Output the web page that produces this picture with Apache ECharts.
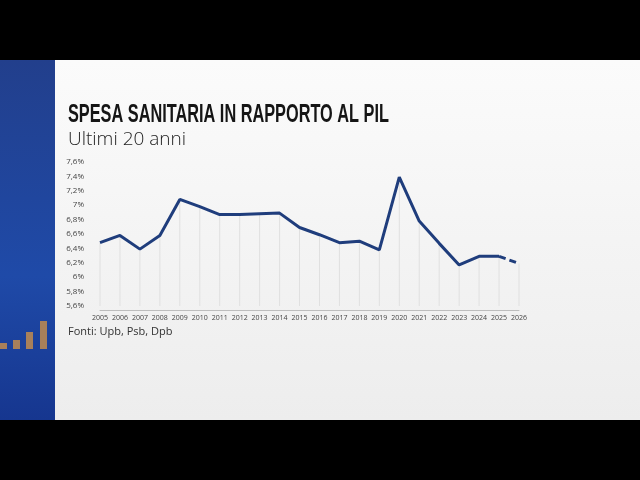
<!DOCTYPE html>
<html>
<head>
<meta charset="utf-8">
<script src="https://cdn.jsdelivr.net/npm/echarts@6/dist/echarts.min.js"></script>
<style>
  html, body { margin: 0; padding: 0; background: #000; }
  #chart { width: 640px; height: 480px; }
</style>
</head>
<body>
<div id="chart"></div>
<script>
// anni e valori (spesa sanitaria / PIL, %)
const years = ['2005','2006','2007','2008','2009','2010','2011','2012','2013','2014','2015',
  '2016','2017','2018','2019','2020','2021','2022','2023','2024','2025','2026'];
const actual = [6.48, 6.58, 6.39, 6.58, 7.08, 6.98, 6.87, 6.87, 6.88, 6.89, 6.69,
  6.59, 6.48, 6.50, 6.38, 7.39, 6.78, 6.47, 6.17, 6.29, 6.29, null];
const forecast = [null, null, null, null, null, null, null, null, null, null, null,
  null, null, null, null, null, null, null, null, null, 6.29, 6.19];
const dropLines = [6.48, 6.58, 6.39, 6.58, 7.08, 6.98, 6.87, 6.87, 6.88, 6.89, 6.69,
  6.59, 6.48, 6.50, 6.38, 7.39, 6.78, 6.47, 6.17, 6.29, 6.29, 6.19];

const lineColor = '#1f3d7c';

let myChart = echarts.init(document.getElementById('chart'));

let option = {
  animation: false,
  backgroundColor: '#000',
  graphic: [
    // pannello chiaro
    {
      type: 'rect', z: -10, silent: true,
      shape: { x: 55, y: 60, width: 585, height: 360 },
      style: {
        fill: new echarts.graphic.LinearGradient(0, 0, 0, 1, [
          { offset: 0, color: '#fbfbfb' },
          { offset: 1, color: '#ededed' }
        ])
      }
    },
    // pannello blu a sinistra
    {
      type: 'rect', z: -10, silent: true,
      shape: { x: 0, y: 60, width: 55, height: 360 },
      style: {
        fill: new echarts.graphic.LinearGradient(0, 0, 0, 1, [
          { offset: 0, color: '#223f8c' },
          { offset: 0.6, color: '#1f4aa8' },
          { offset: 1, color: '#16368f' }
        ])
      }
    },
    { type: 'rect', z: -9, silent: true, shape: { x: 0, y: 343, width: 7, height: 6 }, style: { fill: '#a8805a' } },
    { type: 'rect', z: -9, silent: true, shape: { x: 13, y: 340, width: 7, height: 9 }, style: { fill: '#a8805a' } },
    { type: 'rect', z: -9, silent: true, shape: { x: 26, y: 332, width: 7, height: 17 }, style: { fill: '#a8805a' } },
    { type: 'rect', z: -9, silent: true, shape: { x: 40, y: 321, width: 7, height: 28 }, style: { fill: '#a8805a' } },
    {
      type: 'text', x: 68, y: 102, scaleX: 0.627,
      style: {
        text: 'SPESA SANITARIA IN RAPPORTO AL PIL',
        font: 'bold 26px "Liberation Sans"',
        fill: '#151515'
      }
    },
    {
      type: 'text', left: 68, top: 130,
      style: {
        text: 'Ultimi 20 anni',
        font: '300 19px "Open Sans"',
        fill: '#222'
      }
    },
    {
      type: 'text', left: 68, top: 326,
      style: {
        text: 'Fonti: Upb, Psb, Dpb',
        font: '11px "Open Sans"',
        fill: '#333'
      }
    }
  ],
  grid: { left: 100, right: 121, top: 162, bottom: 174 },
  xAxis: {
    type: 'category',
    data: years,
    boundaryGap: false,
    offset: 4,
    axisLine: { lineStyle: { color: '#bdbdbd', width: 1 } },
    axisTick: { show: false },
    axisLabel: { color: '#444', fontSize: 7, fontFamily: 'Open Sans', margin: 4, interval: 0 }
  },
  yAxis: {
    type: 'value',
    min: 5.6,
    max: 7.6,
    interval: 0.2,
    splitLine: { show: false },
    axisLine: { show: false },
    axisTick: { show: false },
    axisLabel: {
      color: '#444', fontSize: 8, fontFamily: 'Open Sans', margin: 16,
      formatter: (v) => (Math.round(v * 10) / 10).toString().replace('.', ',') + '%'
    }
  },
  series: [
    {
      type: 'bar',
      data: dropLines,
      barWidth: 1,
      itemStyle: { color: '#e0e0e0' },
      silent: true,
      z: 1
    },
    {
      type: 'line',
      data: actual,
      symbol: 'none',
      lineStyle: { color: lineColor, width: 3 },
      z: 3
    },
    {
      type: 'line',
      data: forecast,
      symbol: 'none',
      lineStyle: { color: lineColor, width: 3, type: [7, 4] },
      z: 3
    }
  ]
};

option && myChart.setOption(option);
</script>
</body>
</html>
